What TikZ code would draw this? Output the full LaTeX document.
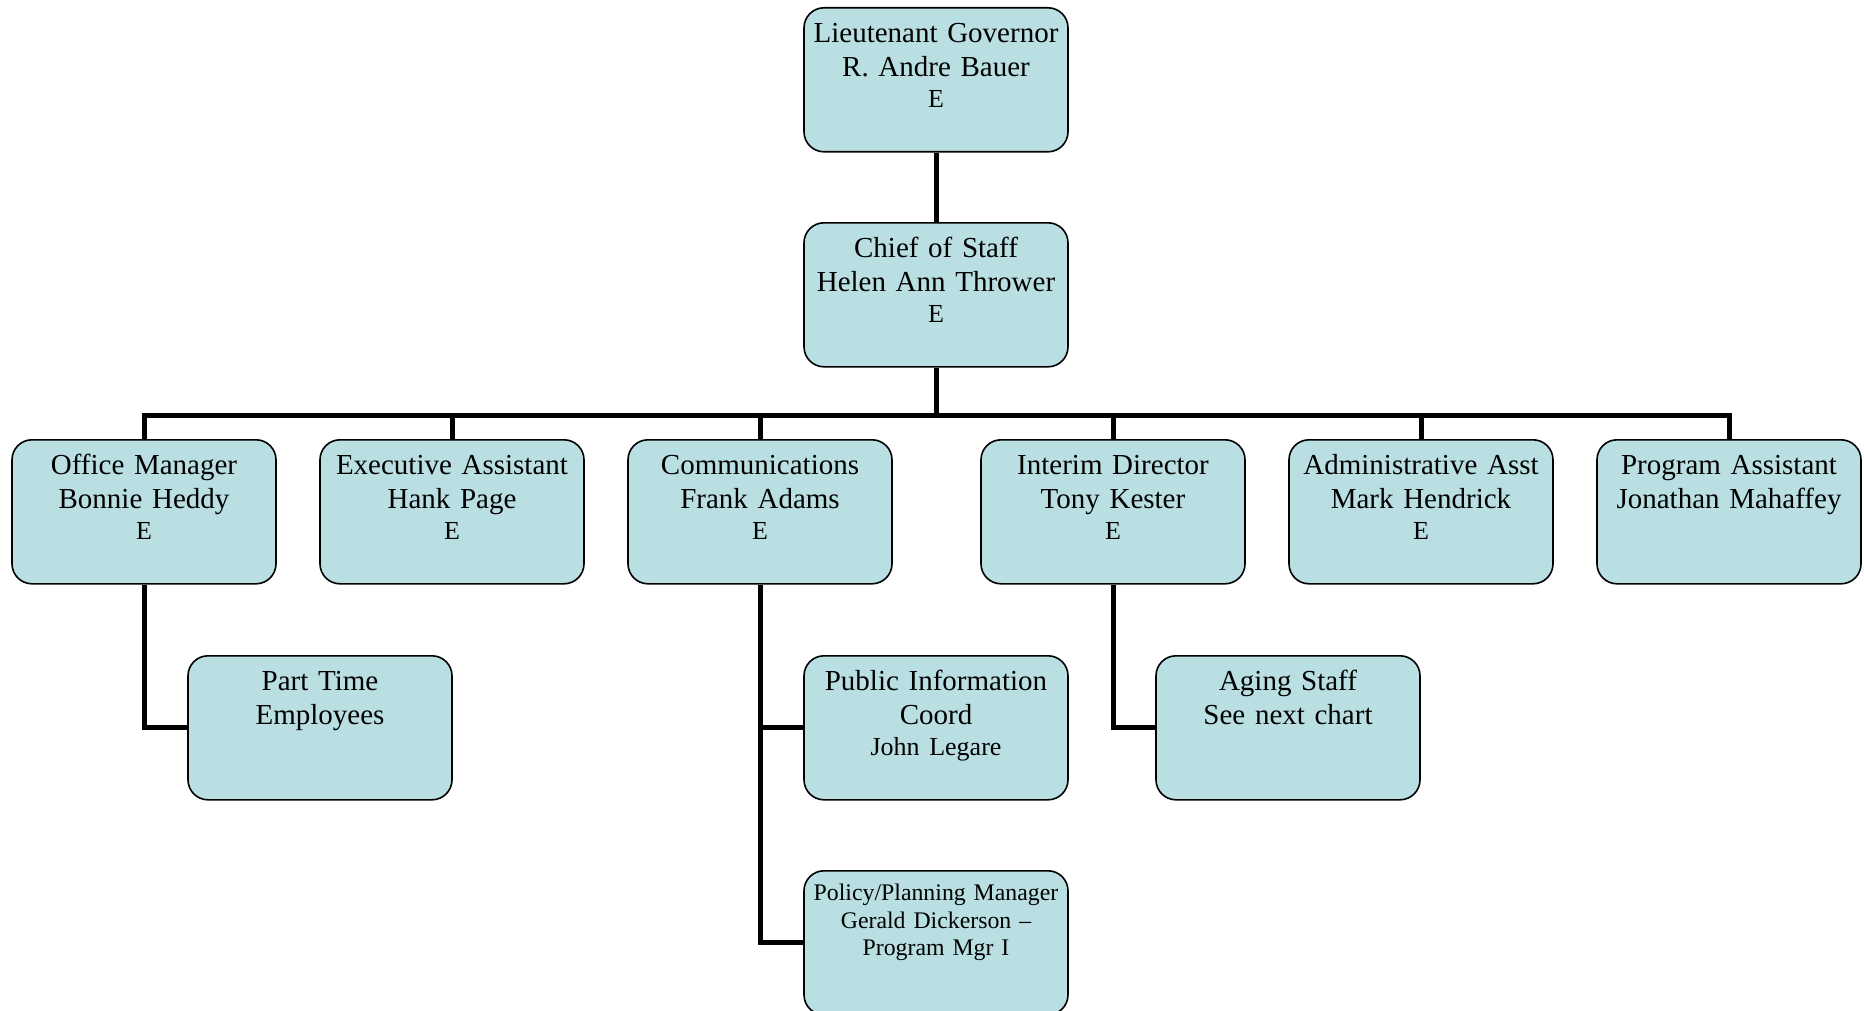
\documentclass[tikz,border=0pt]{standalone}
\usepackage{fontspec}
\setmainfont{Liberation Serif}
\definecolor{boxfill}{RGB}{185,223,227}
\tikzset{
  post/.style={draw=black, line width=0.8pt, fill=boxfill, rounded corners=10pt,
    anchor=north, inner sep=0pt, text width=132pt, align=center,
    text height=17.5pt, text depth=54.5pt, font=\fontsize{14.5}{17}\selectfont},
  smallpost/.style={post, text height=15pt, text depth=57pt,
    font=\fontsize{11.9}{13.7}\selectfont},
  link/.style={line width=2.5pt}
}
\newcommand{\grade}[1]{\\[-1.5pt]{\fontsize{13}{15}\selectfont #1}}

\begin{document}
\begin{tikzpicture}[x=0.5pt,y=-0.5pt]
  \useasboundingbox (0,0) rectangle (1864,1011);

  % top of the chart
  \node[post] (gov) at (936,7) {Lieutenant Governor\\R. Andre Bauer\grade{E}};
  \node[post] (chief) at (936,222) {Chief of Staff\\Helen Ann Thrower\grade{E}};

  % staff row
  \node[post] (office) at (144,439) {Office Manager\\Bonnie Heddy\grade{E}};
  \node[post] (exec) at (452,439) {Executive Assistant\\Hank Page\grade{E}};
  \node[post] (comm) at (760,439) {Communications\\Frank Adams\grade{E}};
  \node[post] (interim) at (1113,439) {Interim Director\\Tony Kester\grade{E}};
  \node[post] (admin) at (1421,439) {Administrative Asst\\Mark Hendrick\grade{E}};
  \node[post] (program) at (1729,439) {Program Assistant\\Jonathan Mahaffey};

  % below the staff row
  \node[post] (parttime) at (320,655) {Part Time\\Employees};
  \node[post] (pio) at (936,655) {Public Information\\Coord\grade{John Legare}};
  \node[post] (aging) at (1288,655) {Aging Staff\\See next chart};
  \node[smallpost] (policy) at (936,870) {Policy/Planning Manager\\Gerald Dickerson --\\Program Mgr I};

  \draw[link] (gov) -- (chief);
  \foreach \n in {office,exec,comm,interim,admin,program}
    \draw[link] (chief.south) -- ++(0,48) -| (\n.north);
  \draw[link] (office.south) |- (parttime.west);
  \draw[link] (comm.south) |- (pio.west);
  \draw[link] (comm.south) |- (policy.west);
  \draw[link] (interim.south) |- (aging.west);
\end{tikzpicture}
\end{document}
